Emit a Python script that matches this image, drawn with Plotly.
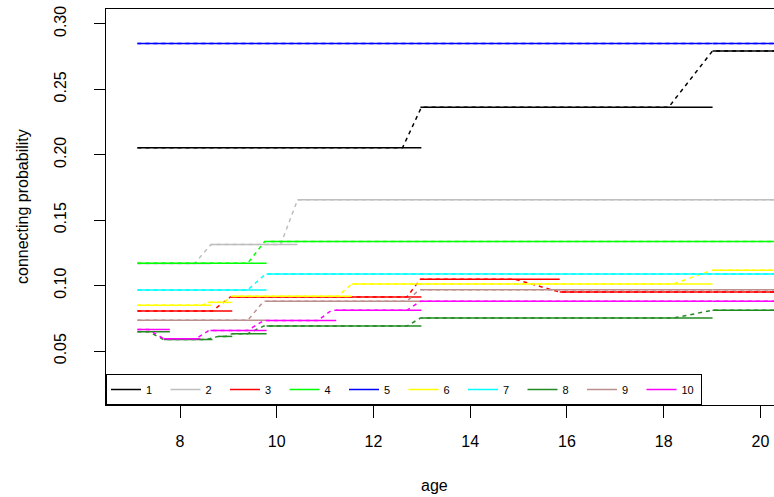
import plotly.graph_objects as go

END = 23.4

labels = ["1", "2", "3", "4", "5", "6", "7", "8", "9", "10"]
colors = ["#000000", "#BEBEBE", "#FF0000", "#00FF00", "#0000FF",
          "#FFFF00", "#00FFFF", "#228B22", "#BC8F8F", "#FF00FF"]

# solid step segments per cluster: start age, end age, probability
seg_x0 = [
    [7.12, 12.97, 19.01],
    [7.12, 8.64, 10.43, 19.01],
    [7.12, 9.06, 12.97, 15.85, 19.01],
    [7.12, 9.79, 19.01],
    [7.12, 19.01],
    [7.12, 8.57, 9.08, 11.55, 19.01],
    [7.12, 9.79, 19.01],
    [7.12, 7.67, 8.79, 9.08, 9.79, 12.99, 19.01],
    [7.12, 9.79, 12.99, 19.01],
    [7.12, 7.67, 8.63, 9.79, 11.23, 12.99, 19.01],
]
seg_x1 = [
    [12.99, 19.01, END],
    [8.64, 10.43, 19.01, END],
    [9.08, 12.99, 15.85, 19.01, END],
    [9.79, 19.01, END],
    [19.01, END],
    [8.64, 9.08, 11.55, 19.01, END],
    [9.79, 19.01, END],
    [7.79, 8.67, 9.08, 9.79, 12.99, 19.01, END],
    [9.79, 12.99, 19.01, END],
    [7.79, 8.42, 9.79, 11.23, 12.99, 19.01, END],
]
seg_y = [
    [0.2053, 0.2362, 0.2793],
    [0.1168, 0.1314, 0.1655, 0.1655],
    [0.0806, 0.0913, 0.1049, 0.0951, 0.0951],
    [0.1171, 0.1337, 0.1337],
    [0.2849, 0.2849],
    [0.0850, 0.0872, 0.0918, 0.1013, 0.1117],
    [0.0967, 0.1089, 0.1089],
    [0.0648, 0.0588, 0.0612, 0.0633, 0.0691, 0.0752, 0.0811],
    [0.0735, 0.0880, 0.0968, 0.0968],
    [0.0664, 0.0595, 0.0658, 0.0733, 0.0811, 0.0880, 0.0880],
]

# dashed trajectory per cluster
dash_x = [
    [7.12, 12.6, 12.99, 18.1, 19.01, END],
    [7.12, 8.3, 8.64, 10.08, 10.43, END],
    [7.12, 8.67, 9.04, 12.69, 12.97, 14.92, 15.85, END],
    [7.12, 9.4, 9.75, END],
    [7.12, END],
    [7.12, 8.45, 8.62, 8.9, 9.06, 11.26, 11.55, 18.2, 19.0, END],
    [7.12, 9.4, 9.77, END],
    [7.12, 7.35, 7.66, 8.55, 8.79, 8.95, 9.08, 9.4, 9.73, 12.69, 12.97, 18.2, 19.0, END],
    [7.12, 9.4, 9.73, 12.69, 12.94, END],
    [7.12, 7.35, 7.66, 8.33, 8.6, 9.4, 9.73, 10.85, 11.13, 12.69, 12.97, END],
]
dash_y = [
    [0.2053, 0.2053, 0.2362, 0.2362, 0.2793, 0.2793],
    [0.1168, 0.1168, 0.1314, 0.1314, 0.1655, 0.1655],
    [0.0806, 0.0806, 0.0913, 0.0913, 0.1049, 0.1049, 0.0951, 0.0951],
    [0.1171, 0.1171, 0.1337, 0.1337],
    [0.2849, 0.2849],
    [0.0850, 0.0850, 0.0872, 0.0872, 0.0918, 0.0918, 0.1013, 0.1013, 0.1117, 0.1117],
    [0.0967, 0.0967, 0.1089, 0.1089],
    [0.0648, 0.0648, 0.0588, 0.0588, 0.0612, 0.0612, 0.0633, 0.0633, 0.0691, 0.0691, 0.0752, 0.0752, 0.0811, 0.0811],
    [0.0735, 0.0735, 0.0880, 0.0880, 0.0968, 0.0968],
    [0.0664, 0.0664, 0.0595, 0.0595, 0.0658, 0.0658, 0.0733, 0.0733, 0.0811, 0.0811, 0.0880, 0.0880],
]

x_ticks = [8, 10, 12, 14, 16, 18, 20]
y_ticks = [0.05, 0.10, 0.15, 0.20, 0.25, 0.30]
y_ticktext = ["0.05", "0.10", "0.15", "0.20", "0.25", "0.30"]

FONT = "Liberation Sans, Arial, sans-serif"
LW = 1.5

fig = go.Figure()
for i, lab in enumerate(labels):
    sx, sy = [], []
    for a, b, v in zip(seg_x0[i], seg_x1[i], seg_y[i]):
        sx += [a, b, None]
        sy += [v, v, None]
    fig.add_trace(go.Scatter(x=sx, y=sy, mode="lines", name=lab,
                             legendgroup=lab,
                             line=dict(color=colors[i], width=LW),
                             hoverinfo="skip"))
    fig.add_trace(go.Scatter(x=dash_x[i], y=dash_y[i], mode="lines",
                             name=lab, legendgroup=lab, showlegend=False,
                             line=dict(color=colors[i], width=LW, dash="4px,4px"),
                             hoverinfo="skip"))

fig.update_layout(
    width=774, height=497,
    margin=dict(l=106, r=0, t=9, b=92),
    paper_bgcolor="white", plot_bgcolor="white",
    font=dict(family=FONT, size=16, color="black"),
    showlegend=True,
    legend=dict(orientation="h", x=0, y=0, xanchor="left", yanchor="bottom",
                bgcolor="white", bordercolor="black", borderwidth=1,
                font=dict(size=11, family=FONT, color="black"),
                entrywidth=14.5, entrywidthmode="pixels",
                tracegroupgap=0),
    xaxis=dict(range=[6.47, 20.28], tickvals=x_ticks,
               ticktext=[str(v) for v in x_ticks],
               showline=True, linecolor="black", linewidth=1, mirror=True,
               ticks="outside", ticklen=12, tickcolor="black", tickwidth=1,
               showgrid=False, zeroline=False, ticklabelstandoff=10,
               tickfont=dict(size=16, family=FONT, color="black")),
    yaxis=dict(range=[0.0088, 0.3113], tickvals=y_ticks, ticktext=y_ticktext,
               showline=True, linecolor="black", linewidth=1, mirror=False,
               ticks="outside", ticklen=11, tickcolor="black", tickwidth=1,
               showgrid=False, zeroline=False, tickangle=-90,
               ticklabelstandoff=22,
               tickfont=dict(size=16, family=FONT, color="black")),
    annotations=[
        dict(text="age", xref="paper", yref="paper", x=0.5, y=0,
             xanchor="center", yanchor="middle", yshift=-80,
             xshift=(434 - (106 + 668 / 2)),
             showarrow=False, font=dict(size=16, family=FONT, color="black")),
        dict(text="connecting probability", xref="paper", yref="paper",
             x=0, y=0.5, xanchor="center", yanchor="middle", xshift=-84,
             textangle=-90, showarrow=False,
             font=dict(size=16, family=FONT, color="black")),
    ],
)

fig.write_html("out.html")
